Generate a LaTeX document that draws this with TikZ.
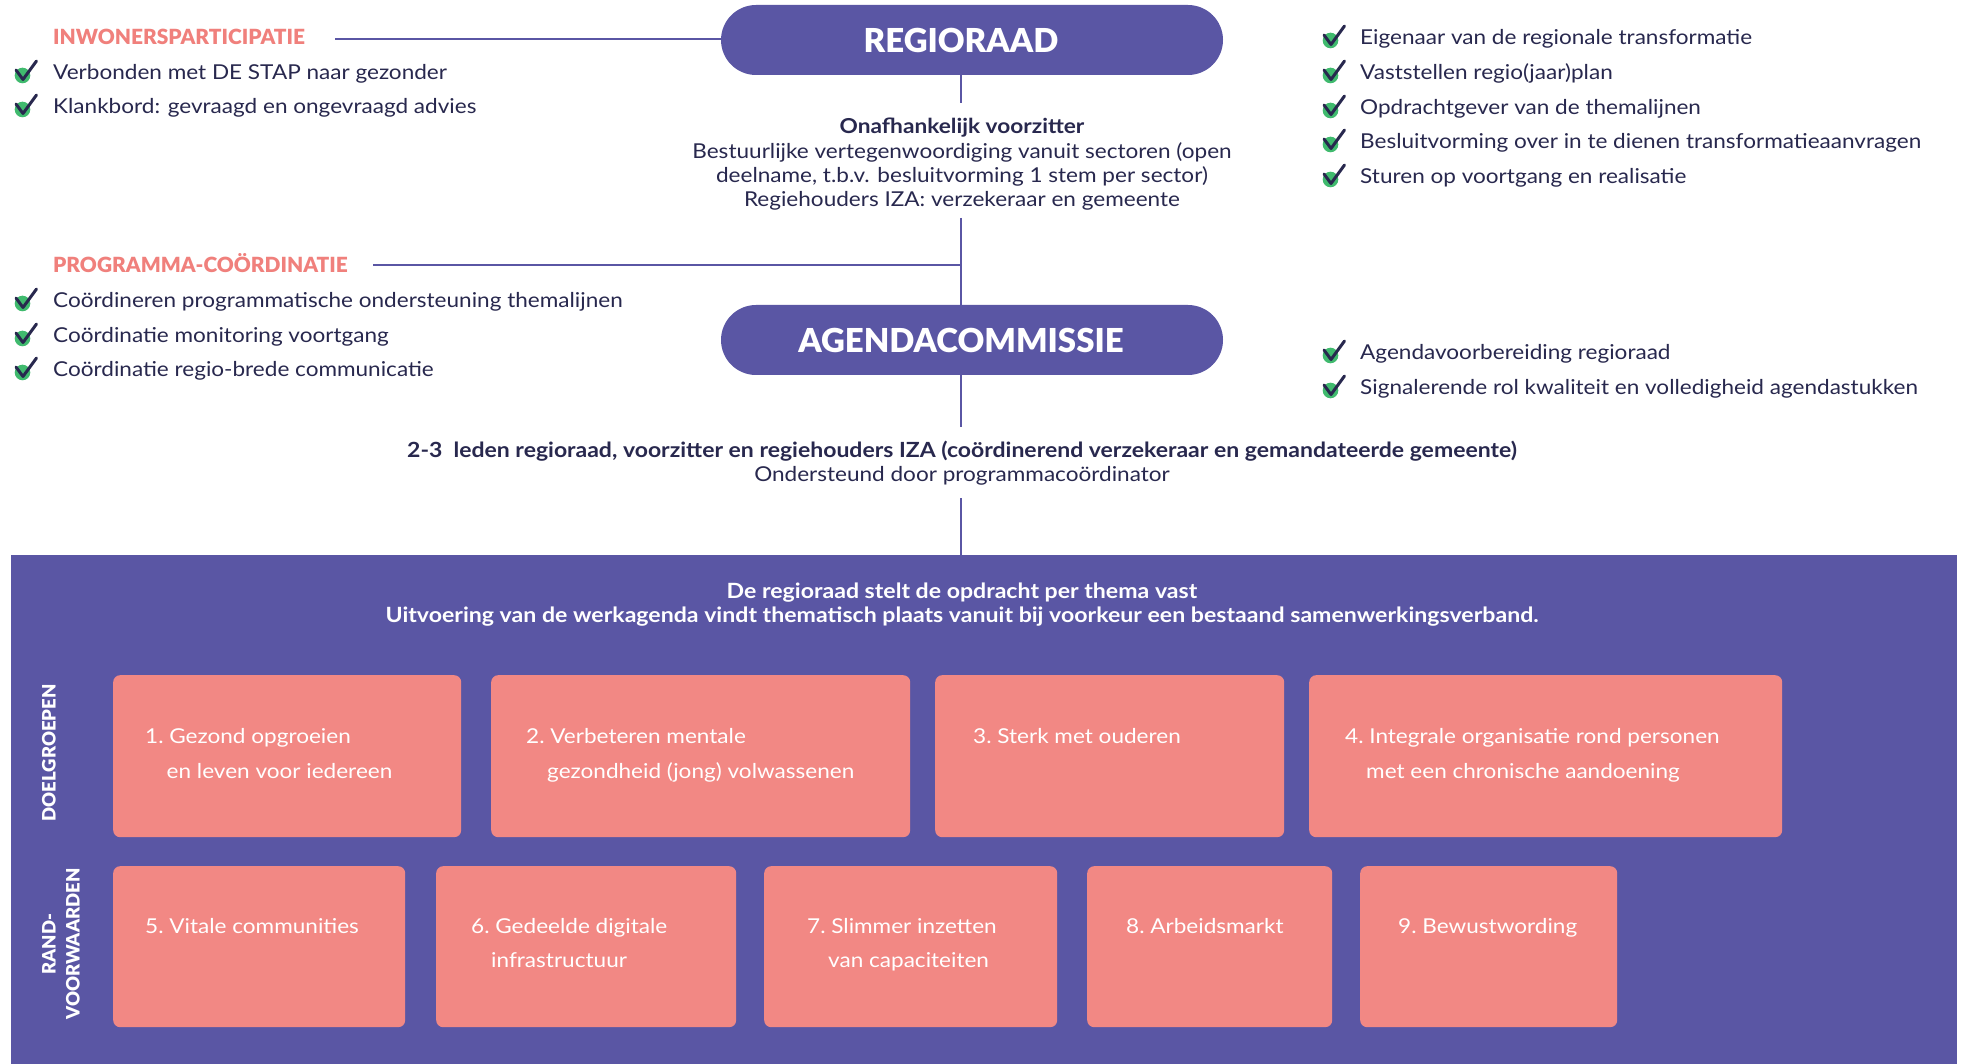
\documentclass[tikz,border=0pt]{standalone}
\usepackage{fontspec}
\setmainfont{Lato}[FakeStretch=1.1]
\newfontfamily\plainfont{Lato}
\newfontfamily\blackfont{Lato Black}
\definecolor{purp}{RGB}{90,86,164}
\definecolor{salm}{RGB}{242,136,132}
\definecolor{salmtxt}{RGB}{240,128,124}
\definecolor{navy}{RGB}{40,40,78}
\definecolor{chkgreen}{RGB}{64,186,110}
\newcommand\chkicon[2]{%
  \fill[chkgreen] (#1,#2-4.5) circle (7.8pt);
  \draw[navy, line width=3pt, line cap=round, line join=round] (#1-6.5,#2-10) -- (#1+0.5,#2-0.5) -- (#1+14,#2-19);
}
\begin{document}
\begin{tikzpicture}[x=1pt,y=-1pt,
  pill/.style={fill=purp, rounded corners=35pt, minimum width=502pt, minimum height=70pt, inner sep=0pt},
  pilltxt/.style={inner sep=0pt, text=white, font=\blackfont\fontsize{33}{40}\selectfont},
  conn/.style={draw=purp, line width=2.6pt},
  head/.style={anchor=base west, inner sep=0pt, text=salmtxt, font=\blackfont\fontsize{20.9}{24}\selectfont},
  item/.style={anchor=base west, inner sep=0pt, text=navy, font=\fontsize{20.5}{24}\selectfont},
  ctr/.style={anchor=base, inner sep=0pt, text=navy, font=\fontsize{20.5}{24}\selectfont},
  ctrb/.style={ctr, font=\fontsize{20.6}{24}\selectfont\bfseries},
  wh/.style={anchor=base, inner sep=0pt, text=white, font=\fontsize{21}{24}\selectfont\bfseries},
  tbox/.style={fill=salm, rounded corners=7pt, anchor=north west, inner sep=0pt},
  btxt/.style={anchor=base west, inner sep=0pt, text=white, font=\fontsize{20.5}{24}\selectfont},
  side/.style={rotate=90, inner sep=0pt, text=white, align=center, font=\blackfont\fontsize{18.5}{24}\selectfont}
]
\useasboundingbox (0,0) rectangle (1966,1064);
\fill[white] (0,0) rectangle (1966,1064);

% --- pills
\node[pill] (regio) at (972,40) {};
\node[pilltxt] (regioT) at (961,40) {REGIORAAD};
\node[pill] (agenda) at (972,340) {};
\node[pilltxt] (agendaT) at (961,340) {AGENDACOMMISSIE};

% --- connector coordinates
\coordinate (c1) at (961,103);
\coordinate (c2) at (961,218);
\coordinate (c3) at (961,427);
\coordinate (c4) at (961,498);
\coordinate (inwEnd) at (335,39);
\coordinate (progEnd) at (373,265);
\coordinate (progJ) at (961,265);

% --- purple panel
\fill[purp] (11,555) coordinate (panelTL) rectangle (1957,1064);
\coordinate (panelTop) at (961,555);

\draw[conn] (regio.south -| c1) -- (c1);
\draw[conn] (c2) -- (agenda.north -| c2);
\draw[conn] (agenda.south -| c3) -- (c3);
\draw[conn] (c4) -- (panelTop);
\draw[conn] (inwEnd) -- (regio.west |- inwEnd);
\draw[conn] (progEnd) -- (progJ);

% --- left lists
\node[head] (inw) at (53,45) {INWONERSPARTICIPATIE};
\chkicon{22.5}{80}
\node[item] (l1) at (53,80) {Verbonden met DE STAP naar gezonder};
\chkicon{22.5}{114}
\node[item] (l2) at (53,114) {Klankbord: gevraagd en ongevraagd advies};

\node[head] (prog) at (53,273) {PROGRAMMA-COÖRDINATIE};
\chkicon{22.5}{308}
\node[item] (l3) at (53,308) {Coördineren programmatische ondersteuning themalijnen};
\chkicon{22.5}{343}
\node[item] (l4) at (53,343) {Coördinatie monitoring voortgang};
\chkicon{22.5}{377}
\node[item] (l5) at (53,377) {Coördinatie regio-brede communicatie};

% --- right lists
\chkicon{1330.5}{45}
\node[item] (r1) at (1360,45) {Eigenaar van de regionale transformatie};
\chkicon{1330.5}{80}
\node[item] (r2) at (1360,80) {Vaststellen regio(jaar)plan};
\chkicon{1330.5}{115}
\node[item] (r3) at (1360,115) {Opdrachtgever van de themalijnen};
\chkicon{1330.5}{149}
\node[item] (r4) at (1360,149) {Besluitvorming over in te dienen transformatieaanvragen};
\chkicon{1330.5}{184}
\node[item] (r5) at (1360,184) {Sturen op voortgang en realisatie};
\chkicon{1330.5}{360}
\node[item] (r6) at (1360,360) {Agendavoorbereiding regioraad};
\chkicon{1330.5}{395}
\node[item] (r7) at (1360,395) {Signalerende rol kwaliteit en volledigheid agendastukken};

% --- centre texts
\node[ctrb] (t1) at (962,134) {Onafhankelijk voorzitter};
\node[ctr] (t2) at (962,159) {Bestuurlijke vertegenwoordiging vanuit sectoren (open};
\node[ctr] (t3) at (962,183) {deelname, t.b.v. besluitvorming 1 stem per sector)};
\node[ctr] (t4) at (962,207) {Regiehouders IZA: verzekeraar en gemeente};
\node[ctrb, font=\fontsize{20.9}{24}\selectfont\bfseries] (t5) at (962,457) {2-3\ \ leden regioraad, voorzitter en regiehouders IZA (coördinerend verzekeraar en gemandateerde gemeente)};
\node[ctr] (t6) at (962,482) {Ondersteund door programmacoördinator};

% --- panel header
\node[wh] (h1) at (962,598) {De regioraad stelt de opdracht per thema vast};
\node[wh] (h2) at (962,622) {Uitvoering van de werkagenda vindt thematisch plaats vanuit bij voorkeur een bestaand samenwerkingsverband.};

% --- side labels
\node[side] (doel) at (49,753) {DOELGROEPEN};
\node[side] (rand) at (61,944) {RAND-\\VOORWAARDEN};

% --- theme boxes row 1
\node[tbox, minimum width=348pt, minimum height=162pt] (b1) at (113,675) {};
\node[tbox, minimum width=419pt, minimum height=162pt] (b2) at (491,675) {};
\node[tbox, minimum width=349pt, minimum height=162pt] (b3) at (935,675) {};
\node[tbox, minimum width=473pt, minimum height=162pt] (b4) at (1309,675) {};
% row 2
\node[tbox, minimum width=292pt, minimum height=161pt] (b5) at (113,866) {};
\node[tbox, minimum width=300pt, minimum height=161pt] (b6) at (436,866) {};
\node[tbox, minimum width=293pt, minimum height=161pt] (b7) at (764,866) {};
\node[tbox, minimum width=245pt, minimum height=161pt] (b8) at (1087,866) {};
\node[tbox, minimum width=257pt, minimum height=161pt] (b9) at (1360,866) {};

\node[btxt] (b1a) at (145,743) {1.~Gezond opgroeien};
\node[btxt] (b1b) at (166.5,778) {en leven voor iedereen};
\node[btxt] (b2a) at (526,743) {2.~Verbeteren mentale};
\node[btxt] (b2b) at (547,778) {gezondheid (jong) volwassenen};
\node[btxt] (b3a) at (973,743) {3.~Sterk met ouderen};
\node[btxt] (b4a) at (1345,743) {4.~Integrale organisatie rond personen};
\node[btxt] (b4b) at (1366,778) {met een chronische aandoening};
\node[btxt] (b5a) at (145,933) {5.~Vitale communities};
\node[btxt] (b6a) at (471,933) {6.~Gedeelde digitale};
\node[btxt] (b6b) at (491,967) {infrastructuur};
\node[btxt] (b7a) at (807,933) {7.~Slimmer inzetten};
\node[btxt] (b7b) at (828,967) {van capaciteiten};
\node[btxt] (b8a) at (1126,933) {8.~Arbeidsmarkt};
\node[btxt] (b9a) at (1398,933) {9.~Bewustwording};
\end{tikzpicture}
\end{document}
